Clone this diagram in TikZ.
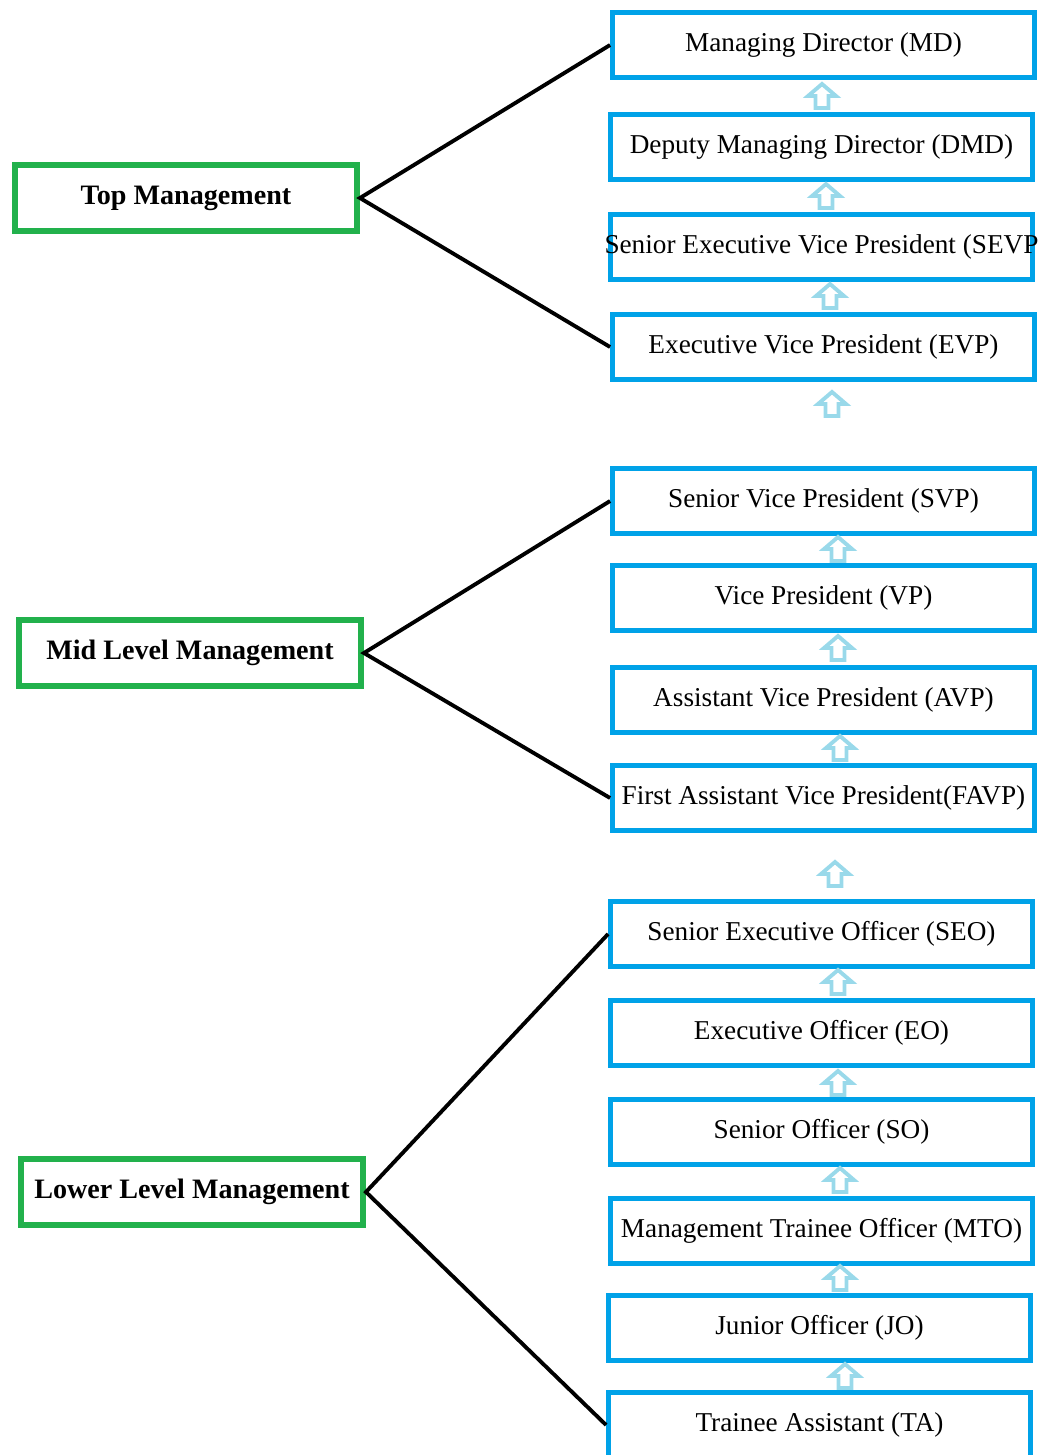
\documentclass[tikz,border=0pt]{standalone}
\usepackage{fontspec}
\setmainfont{Liberation Serif}
\definecolor{rankblue}{HTML}{00A2E8}
\definecolor{levelgreen}{HTML}{22B14C}
\definecolor{stepblue}{HTML}{99D9EA}
\begin{document}
\begin{tikzpicture}[x=0.02cm,y=-0.02cm,
    rank/.style={draw=rankblue,line width=2.8pt,minimum width=8.44cm,minimum height=1.3cm,inner sep=0pt,font=\fontsize{15.5}{18}\selectfont},
    level/.style={draw=levelgreen,line width=3.4pt,minimum width=6.84cm,minimum height=1.32cm,inner sep=0pt,font=\fontsize{16}{19}\selectfont\bfseries},
    link/.style={line width=2.2pt},
    uparrow/.pic={\draw[stepblue,line width=2.2pt,fill=white] (-6.5,12) -- (-6.5,0) -- (-14,0) -- (0,-12) -- (14,0) -- (6.5,0) -- (6.5,12) -- cycle;}]
  \useasboundingbox (0,0) rectangle (1040,1455);
  % management levels
  \node[level] (top) at (186,198) {Top Management};
  \node[level] (mid) at (190,653) {Mid Level Management};
  \node[level] (low) at (192,1192) {Lower Level Management};
  % ranks
  \node[rank] (md) at (823.5,45) {Managing Director (MD)};
  \node[rank] (dmd) at (821.5,147) {Deputy Managing Director (DMD)};
  \node[rank] (sevp) at (821.5,247) {\makebox[8.3cm]{Senior Executive Vice President (SEVP}};
  \node[rank] (evp) at (823.5,347) {Executive Vice President (EVP)};
  \node[rank] (svp) at (823.5,501) {Senior Vice President (SVP)};
  \node[rank] (vp) at (823.5,598) {Vice President (VP)};
  \node[rank] (avp) at (823.5,700) {Assistant Vice President (AVP)};
  \node[rank] (favp) at (823.5,798) {First Assistant Vice President(FAVP)};
  \node[rank] (seo) at (821.5,934) {Senior Executive Officer (SEO)};
  \node[rank] (eo) at (821.5,1033) {Executive Officer (EO)};
  \node[rank] (so) at (821.5,1132) {Senior Officer (SO)};
  \node[rank] (mto) at (821.5,1231) {Management Trainee Officer (MTO)};
  \node[rank] (jo) at (819.5,1328) {Junior Officer (JO)};
  \node[rank] (ta) at (819.5,1425) {Trainee Assistant (TA)};
  % links
  \draw[link] (md.west) -- (top.east) -- (evp.west);
  \draw[link] (svp.west) -- (mid.east) -- (favp.west);
  \draw[link] (seo.west) -- (low.east) -- (ta.west);
  % steps up
  \foreach \x/\y in {822/96,826/196,830/296,832/404,838/549,838/648,840/748,835/874,838/982,838/1083,840/1180,840/1278,845/1376}
    \pic at (\x,\y) {uparrow};
\end{tikzpicture}
\end{document}
